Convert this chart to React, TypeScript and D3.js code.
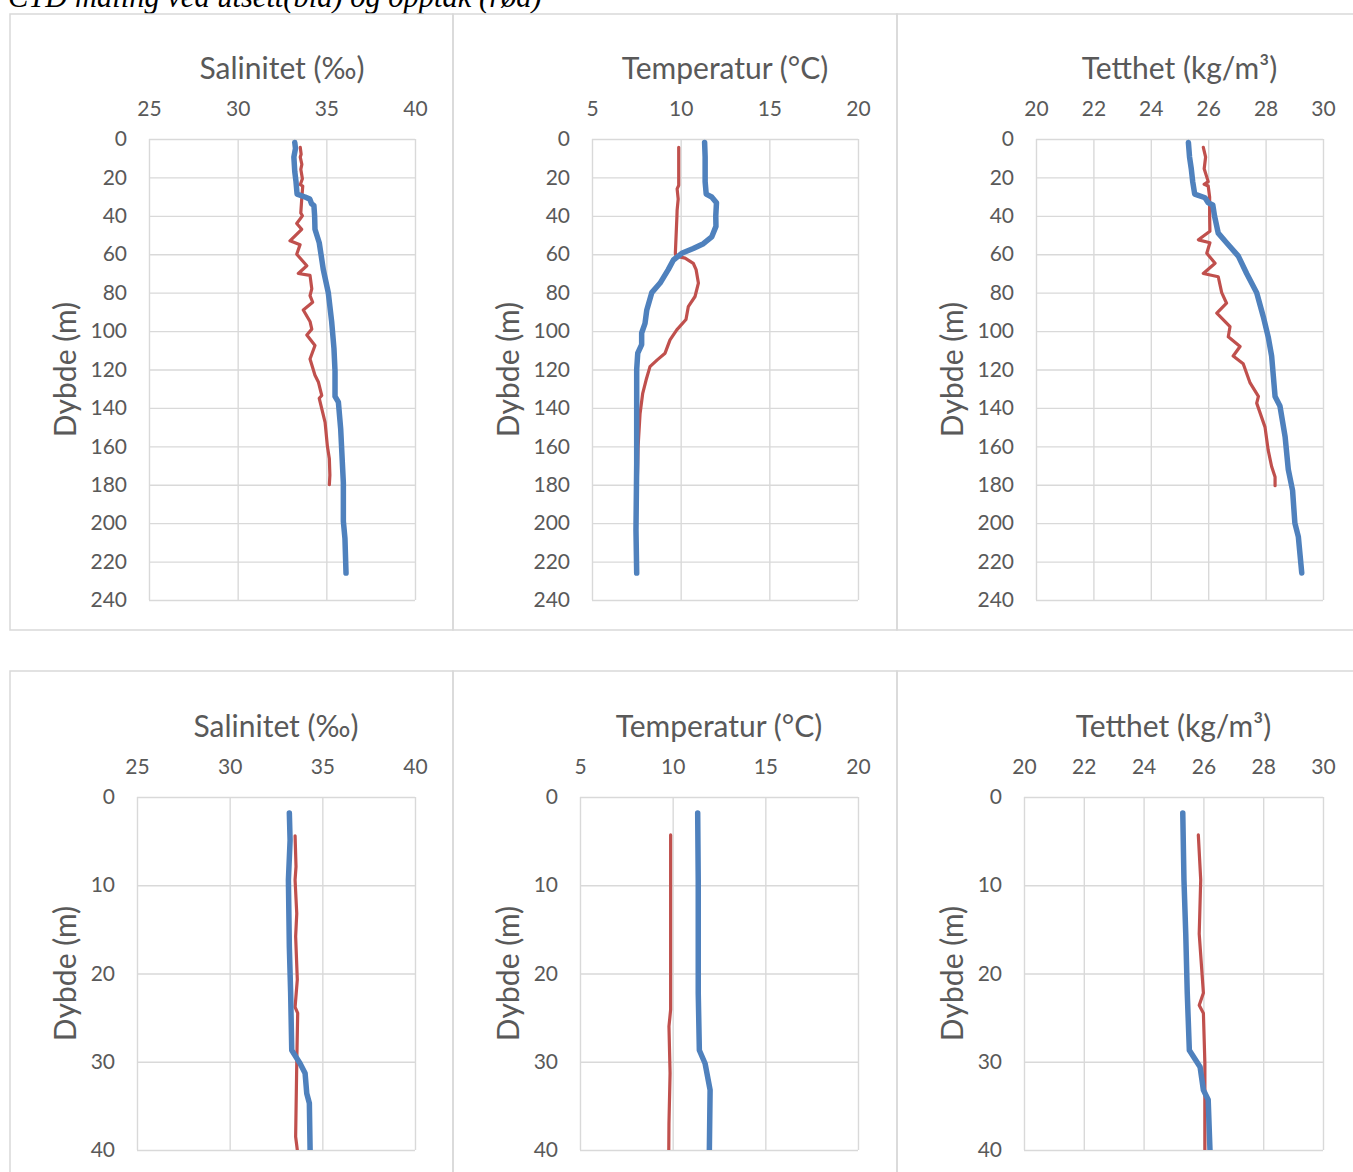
import React, { useEffect, useRef } from 'react';
import * as d3 from 'd3';

// [verdi, dybde] - blå = utsett, rød = opptak
const salUtsett = [[33.22,1.8],[33.26,4.9],[33.17,9.4],[33.22,17],[33.29,22.2],[33.35,28.7],[33.8,30.2],[34.07,31.3],[34.16,33.6],[34.3,34.7],[34.34,40],[34.36,47],[34.6,54],[34.83,68],[35.11,80],[35.3,95],[35.43,109],[35.49,121],[35.49,134],[35.68,137],[35.81,151],[35.9,168],[35.96,179],[35.96,199],[36.05,208],[36.11,226]];
const salOpptak = [[33.53,4.4],[33.58,7.9],[33.53,9.4],[33.62,13.2],[33.56,15.8],[33.65,20.7],[33.53,23.8],[33.67,24.5],[33.62,30.2],[33.56,38.5],[33.65,40],[33.33,44],[33.61,47],[32.95,53],[33.52,55],[33.33,60],[33.9,66],[33.42,70],[34.08,71],[34.18,78],[34.08,81.5],[34.23,85],[33.7,89],[34.08,95],[34.18,99],[33.9,102],[34.36,107.5],[34.08,114.5],[34.36,123],[34.55,126.5],[34.74,133.5],[34.6,135],[34.93,147.5],[35.06,160],[35.17,166.5],[35.2,175],[35.17,180]];
const tempUtsett = [[11.35,1.8],[11.38,9.4],[11.38,22.2],[11.44,28.7],[11.75,30.2],[12.02,33.2],[11.98,40],[11.99,45.5],[11.75,51],[11.28,54.5],[10.71,57],[10.06,59.5],[9.59,63],[9.3,68],[8.84,75],[8.37,80],[8.09,89],[7.99,96],[7.8,101],[7.8,107],[7.58,111.5],[7.52,120],[7.52,143],[7.52,169],[7.48,203.5],[7.52,226]];
const tempOpptak = [[9.89,4.3],[9.89,9.4],[9.89,24.1],[9.8,26],[9.86,31.3],[9.8,37],[9.79,40],[9.7,59.5],[9.74,61],[10.25,62],[10.71,64.7],[10.87,68],[11.0,75],[10.81,82],[10.43,87.3],[10.3,94],[9.78,99.4],[9.4,104.6],[9.12,111.5],[8.68,115],[8.27,118.5],[8.05,125.5],[7.86,132.4],[7.71,143],[7.6,160],[7.55,180]];
const densUtsett = [[25.31,1.8],[25.35,9.4],[25.41,15.5],[25.46,22.2],[25.53,28.7],[25.89,30.6],[26.0,33.2],[26.16,34.3],[26.22,40],[26.35,49],[26.64,54],[27.05,61],[27.34,70],[27.69,80],[27.92,92.5],[28.09,103],[28.21,113],[28.33,134],[28.5,139],[28.68,155],[28.79,172],[28.94,183],[29.02,200],[29.14,207],[29.26,226]];
const densOpptak = [[25.83,4.3],[25.91,9.4],[25.86,15.5],[26.0,22.2],[25.86,23.6],[26.0,24.5],[26.05,30.2],[26.05,40],[26.06,48],[25.66,52.5],[26.06,54],[25.95,59.5],[26.24,64.7],[25.83,70],[26.35,71.7],[26.47,80],[26.64,85.5],[26.3,90.7],[26.76,97.7],[26.7,103],[27.11,108],[26.87,113],[27.22,117],[27.46,127],[27.75,134],[27.69,137.5],[27.98,150],[28.09,162],[28.21,170.5],[28.33,176],[28.33,180.5]];

const salTicks = [25, 30, 35, 40];
const tempTicks = [5, 10, 15, 20];
const densTicks = [20, 22, 24, 26, 28, 30];
const depthTicksTop = d3.range(0, 241, 20);
const depthTicksBottom = [0, 10, 20, 30, 40];

const titles = ['Salinitet (‰)', 'Temperatur (°C)', 'Tetthet (kg/m³)'];
const heading = 'CTD måling ved utsett(blå) og opptak (rød)';

const W = 1353, H = 1172;
const FONT = 'Lato, "Open Sans", sans-serif';

export default function App() {
  const ref = useRef<SVGSVGElement>(null);

  useEffect(() => {
    const svg = d3.select(ref.current);
    svg.selectAll('*').remove();

    // overskriften er kuttet i toppen, som i originalen
    svg.append('text')
      .attr('x', 8).attr('y', 7)
      .attr('font-family', '"Liberation Serif", serif')
      .attr('font-style', 'italic')
      .attr('font-size', 30.5)
      .attr('fill', '#000')
      .text(heading);

    const cols = [
      { ticks: salTicks, blue: salUtsett, red: salOpptak, frame: [10, 453] },
      { ticks: tempTicks, blue: tempUtsett, red: tempOpptak, frame: [453, 897] },
      { ticks: densTicks, blue: densUtsett, red: densOpptak, frame: [897, 1365] },
    ];
    const rows = [
      { frame: [14, 630], top: 139, bottom: 600, lefts: [149, 592, 1036], depth: depthTicksTop },
      { frame: [671, 1185], top: 797, bottom: 1150, lefts: [137, 580, 1024], depth: depthTicksBottom },
    ];
    const rights = [415, 858, 1323];

    rows.forEach((row, ri) => {
      cols.forEach((col, ci) => {
        const g = svg.append('g');
        // ramme
        g.append('rect')
          .attr('x', col.frame[0]).attr('y', row.frame[0])
          .attr('width', col.frame[1] - col.frame[0])
          .attr('height', row.frame[1] - row.frame[0])
          .attr('fill', 'none').attr('stroke', '#d9d9d9').attr('stroke-width', 1.5);

        const l = row.lefts[ci], r = rights[ci], t = row.top, b = row.bottom;
        const x = d3.scaleLinear().domain(d3.extent(col.ticks) as [number, number]).range([l, r]);
        const y = d3.scaleLinear().domain([0, row.depth[row.depth.length - 1]]).range([t, b]);

        const ax = g.append('g').attr('transform', `translate(0,${t})`)
          .call(d3.axisTop(x).tickValues(col.ticks).tickSize(-(b - t)).tickPadding(23).tickFormat(d3.format('d')));
        const ay = g.append('g').attr('transform', `translate(${l},0)`)
          .call(d3.axisLeft(y).tickValues(row.depth).tickSize(-(r - l)).tickPadding(22).tickFormat(d3.format('d')));
        [ax, ay].forEach(a => {
          a.select('.domain').remove();
          a.selectAll('line').attr('stroke', '#d9d9d9').attr('stroke-width', 1.4);
          a.selectAll('text').attr('fill', '#595959').attr('font-size', 21).attr('font-family', FONT);
        });

        g.append('text')
          .attr('x', (l + r) / 2).attr('y', t - 60)
          .attr('text-anchor', 'middle')
          .attr('font-family', FONT).attr('font-size', 30).attr('fill', '#595959')
          .text(titles[ci]);

        g.append('text')
          .attr('transform', `translate(${col.frame[0] + 55},${(t + b) / 2}) rotate(-90)`)
          .attr('text-anchor', 'middle').attr('dy', '0.35em')
          .attr('font-family', FONT).attr('font-size', 30).attr('fill', '#595959')
          .text('Dybde (m)');

        const clipId = `clip-${ri}-${ci}`;
        g.append('clipPath').attr('id', clipId)
          .append('rect').attr('x', l - 10).attr('y', t - 10).attr('width', r - l + 20).attr('height', b - t + 10);

        const line = d3.line<number[]>().x(d => x(d[0])).y(d => y(d[1]));
        const lines = g.append('g').attr('clip-path', `url(#${clipId})`);
        lines.append('path').datum(col.red).attr('d', line)
          .attr('fill', 'none').attr('stroke', '#c0504d').attr('stroke-width', 3.2)
          .attr('stroke-linejoin', 'round').attr('stroke-linecap', 'round');
        lines.append('path').datum(col.blue).attr('d', line)
          .attr('fill', 'none').attr('stroke', '#4f81bd').attr('stroke-width', 5.5)
          .attr('stroke-linejoin', 'round').attr('stroke-linecap', 'round');
      });
    });
  }, []);

  return (
    <svg ref={ref} width={W} height={H}
      style={{ position: 'absolute', left: 0, top: 0, background: '#fff', display: 'block' }} />
  );
}
